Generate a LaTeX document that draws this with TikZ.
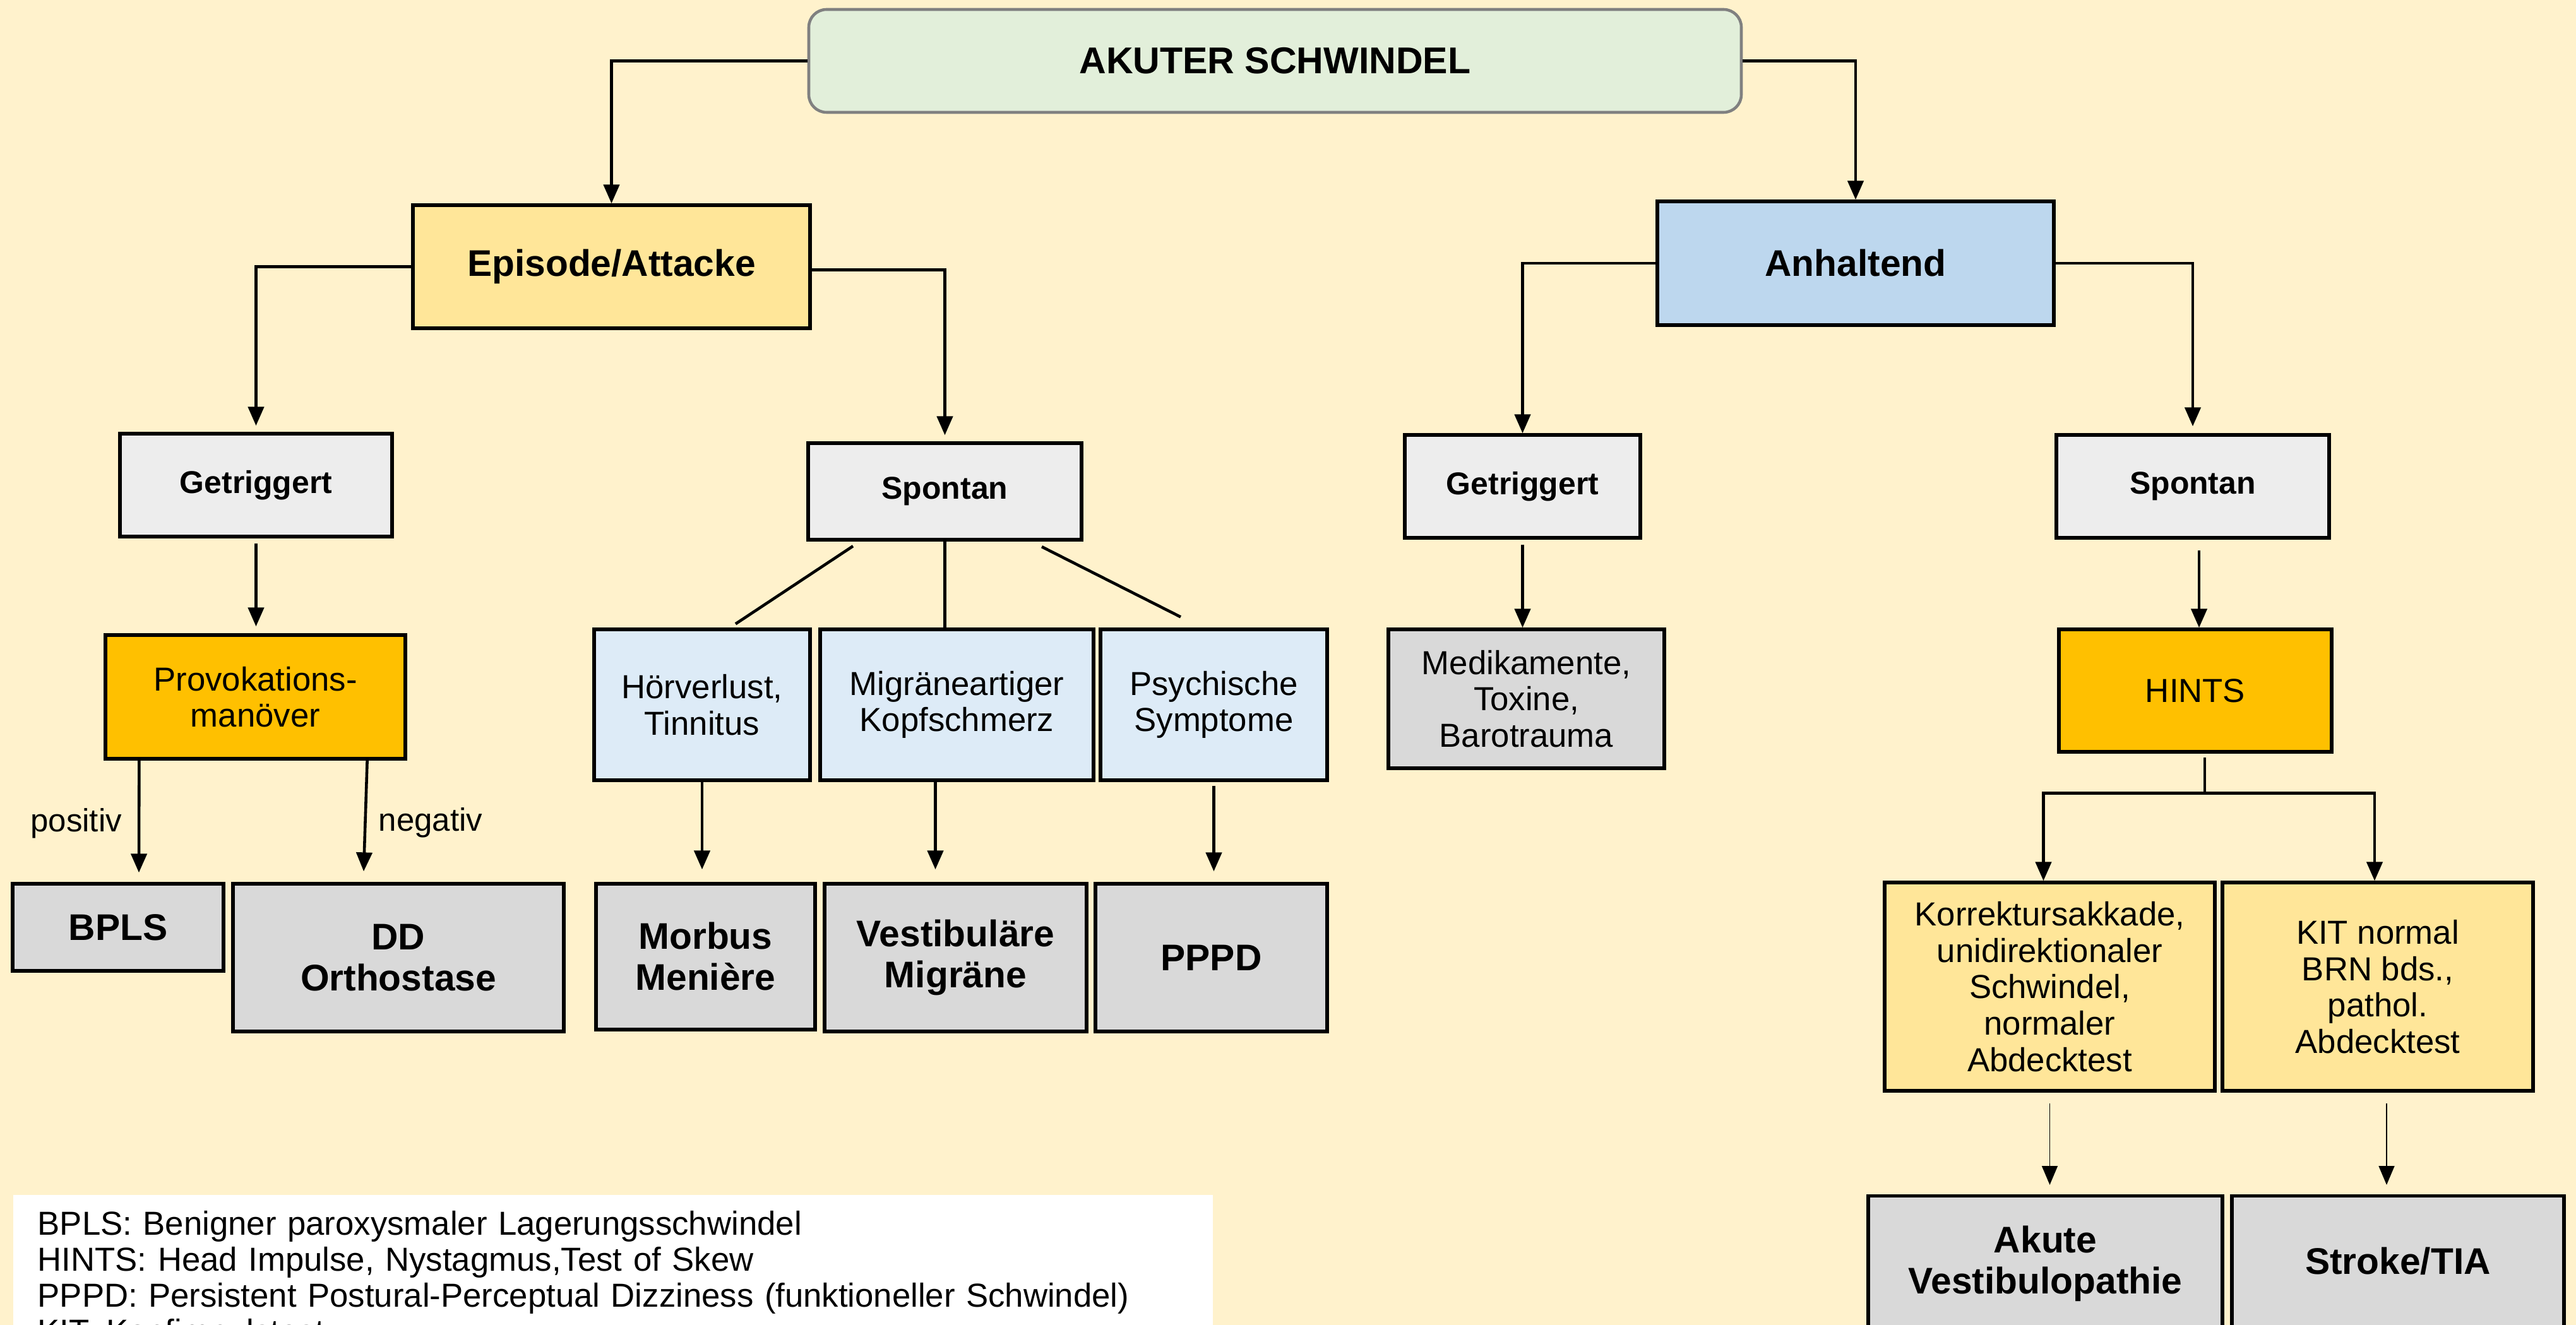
\documentclass[tikz,border=0pt]{standalone}
\usepackage{fontspec}
\setmainfont{Liberation Sans}
\usetikzlibrary{arrows.meta, positioning}

\definecolor{bgcream}{RGB}{255, 242, 204}
\definecolor{topgreen}{RGB}{226, 239, 218}
\definecolor{topedge}{RGB}{128, 128, 128}
\definecolor{episodeyel}{RGB}{255, 230, 153}
\definecolor{anhaltblue}{RGB}{189, 215, 238}
\definecolor{subgrey}{RGB}{237, 237, 237}
\definecolor{testorange}{RGB}{255, 192, 0}
\definecolor{symblue}{RGB}{221, 235, 247}
\definecolor{diaggrey}{RGB}{217, 217, 217}

\tikzset{
  box/.style={draw=black, line width=1.5pt, align=center, inner sep=2pt},
  head/.style={box, font=\fontsize{16.7}{19}\selectfont\bfseries},
  sub/.style={box, fill=subgrey, font=\fontsize{14.2}{16.5}\selectfont\bfseries},
  sign/.style={box, font=\fontsize{15}{16.4}\selectfont},
  diag/.style={box, fill=diaggrey, font=\fontsize{16.7}{18.5}\selectfont\bfseries},
  arr/.style={-{Triangle[length=0.3cm, width=0.25cm]}, line width=1.3pt},
  thinarr/.style={-{Triangle[length=0.3cm, width=0.25cm]}, line width=0.5pt},
  lnk/.style={line width=1.3pt},
  lbl/.style={font=\fontsize{14.5}{16}\selectfont, inner sep=0pt}
}

\begin{document}
\begin{tikzpicture}
  % Canvas
  \useasboundingbox (0,0) rectangle (40.8,-20.99);
  \clip (0,0) rectangle (40.8,-20.99);
  \fill[bgcream] (0,0) rectangle (40.8,-20.99);

  % Root
  \node[draw=topedge, line width=1.3pt, rounded corners=8pt, fill=topgreen, align=center,
        minimum width=14.77cm, minimum height=1.63cm,
        font=\fontsize{16.8}{19}\selectfont\bfseries] (root) at (20.195,-0.965) {AKUTER SCHWINDEL};

  % First split
  \node[head, fill=episodeyel, minimum width=6.29cm, minimum height=1.95cm] (episode) at (9.685,-4.225) {Episode/Attacke};
  \node[head, fill=anhaltblue, minimum width=6.28cm, minimum height=1.96cm] (anhalt) at (29.39,-4.17) {Anhaltend};

  % Triggered / spontaneous
  \node[sub, minimum width=4.31cm, minimum height=1.63cm] (getrL) at (4.055,-7.685) {Getriggert};
  \node[sub, minimum width=4.33cm, minimum height=1.53cm] (spontL) at (14.965,-7.785) {Spontan};
  \node[sub, minimum width=3.73cm, minimum height=1.63cm] (getrR) at (24.115,-7.705) {Getriggert};
  \node[sub, minimum width=4.32cm, minimum height=1.63cm] (spontR) at (34.73,-7.705) {Spontan};

  % Tests and symptoms
  \node[sign, fill=testorange, minimum width=4.75cm, minimum height=1.96cm] (provok) at (4.045,-11.04) {Provokations-\\manöver};
  \node[sign, fill=symblue, minimum width=3.42cm, minimum height=2.39cm] (hoer) at (11.12,-11.165) {Hörverlust,\\Tinnitus};
  \node[sign, fill=symblue, minimum width=4.33cm, minimum height=2.39cm] (migr) at (15.155,-11.165) {Migräneartiger\\Kopfschmerz};
  \node[sign, fill=symblue, minimum width=3.59cm, minimum height=2.39cm] (psych) at (19.225,-11.165) {Psychische\\Symptome};
  \node[sign, fill=diaggrey, minimum width=4.37cm, minimum height=2.2cm] (medik) at (24.175,-11.07) {Medikamente,\\Toxine,\\Barotrauma};
  \node[sign, fill=testorange, minimum width=4.32cm, minimum height=1.94cm] (hints) at (34.77,-10.94) {HINTS};
  \node[sign, fill=episodeyel, minimum width=5.23cm, minimum height=3.3cm] (korr) at (32.465,-15.63) {Korrektursakkade,\\unidirektionaler\\Schwindel,\\normaler\\Abdecktest};
  \node[sign, fill=episodeyel, minimum width=4.92cm, minimum height=3.3cm] (kit) at (37.66,-15.63) {KIT normal\\BRN bds.,\\pathol.\\Abdecktest};

  % Diagnoses
  \node[diag, minimum width=3.34cm, minimum height=1.38cm] (bpls) at (1.87,-14.69) {BPLS};
  \node[diag, minimum width=5.24cm, minimum height=2.34cm] (dd) at (6.31,-15.17) {DD\\Orthostase};
  \node[diag, minimum width=3.47cm, minimum height=2.31cm] (morbus) at (11.175,-15.155) {Morbus\\Menière};
  \node[diag, minimum width=4.15cm, minimum height=2.34cm] (vestmig) at (15.135,-15.17) {Vestibuläre\\Migräne};
  \node[diag, minimum width=3.67cm, minimum height=2.34cm] (pppd) at (19.185,-15.17) {PPPD};
  \node[diag, anchor=north, minimum width=5.61cm, minimum height=2.4cm] (akute) at (32.395,-18.92) {Akute\\Vestibulopathie\rule[-0.38cm]{0pt}{0.38cm}};
  \node[diag, anchor=north, minimum width=5.26cm, minimum height=2.4cm] (stroke) at (37.98,-18.92) {Stroke/TIA\rule[-0.34cm]{0pt}{0.34cm}};

  % Legend
  \node[fill=white, anchor=north west, align=left, text width=18.22cm, inner xsep=0.39cm, inner ysep=0.26cm,
        font=\fontsize{15}{16.2}\selectfont] (legend) at (0.2,-18.92) {
    BPLS: Benigner paroxysmaler Lagerungsschwindel\\
    HINTS: Head Impulse, Nystagmus,Test of Skew\\
    PPPD: Persistent Postural-Perceptual Dizziness (funktioneller Schwindel)\\
    KIT: Kopfimpulstest
  };

  % Connectors from the root
  \draw[arr] (root.west) -| (episode.north);
  \draw[arr] (root.east) -| (anhalt.north);

  % Episode branch
  \draw[arr, shorten >=0.1cm] (episode.west) -| (getrL.north);
  \draw[arr, shorten >=0.1cm] ([yshift=-0.05cm]episode.east) -| (spontL.north);
  \draw[arr, shorten <=0.08cm, shorten >=0.11cm] (getrL.south) -- (getrL.south |- provok.north);
  \draw[arr] ([xshift=0.56cm]provok.south west) -- node[lbl, pos=0.56, left=0.25cm] {positiv} ([xshift=0.33cm, yshift=0.15cm]bpls.north);
  \draw[arr] ([xshift=-0.63cm]provok.south east) -- node[lbl, pos=0.56, right=0.19cm] {negativ} ([xshift=-0.55cm, yshift=0.17cm]dd.north);
  \draw[lnk] ([xshift=-1.455cm, yshift=-0.075cm]spontL.south) -- ([xshift=0.53cm, yshift=0.06cm]hoer.north);
  \draw[lnk] (spontL.south) -- (spontL.south |- migr.north);
  \draw[lnk] ([xshift=1.535cm, yshift=-0.085cm]spontL.south) -- ([xshift=-0.525cm, yshift=0.17cm]psych.north);
  \draw[arr, shorten >=0.2cm] (hoer.south) -- (hoer.south |- morbus.north);
  \draw[arr, shorten >=0.2cm] ([xshift=-0.34cm]migr.south) -- ([xshift=-0.34cm]migr.south |- vestmig.north);
  \draw[arr, shorten <=0.06cm, shorten >=0.17cm] (psych.south) -- (psych.south |- pppd.north);

  % Persistent branch
  \draw[arr] (anhalt.west) -| (getrR.north);
  \draw[arr, shorten >=0.11cm] (anhalt.east) -| (spontR.north);
  \draw[arr, shorten <=0.08cm] (getrR.south) -- (getrR.south |- medik.north);
  \draw[arr, shorten <=0.17cm] ([xshift=0.1cm]spontR.south) -- ([xshift=0.1cm]spontR.south |- hints.north);
  \draw[lnk, shorten <=0.06cm] ([xshift=0.15cm]hints.south) -- ++(0,-0.63) coordinate (fork);
  \draw[arr] (fork) -| ([xshift=-0.1cm]korr.north);
  \draw[arr] (fork) -| ([xshift=-0.05cm]kit.north);
  \draw[thinarr, shorten <=0.17cm, shorten >=0.15cm] (korr.south) -- (korr.south |- akute.north);
  \draw[thinarr, shorten <=0.17cm, shorten >=0.15cm] ([xshift=0.14cm]kit.south) -- ([xshift=0.14cm]kit.south |- stroke.north);
\end{tikzpicture}
\end{document}
